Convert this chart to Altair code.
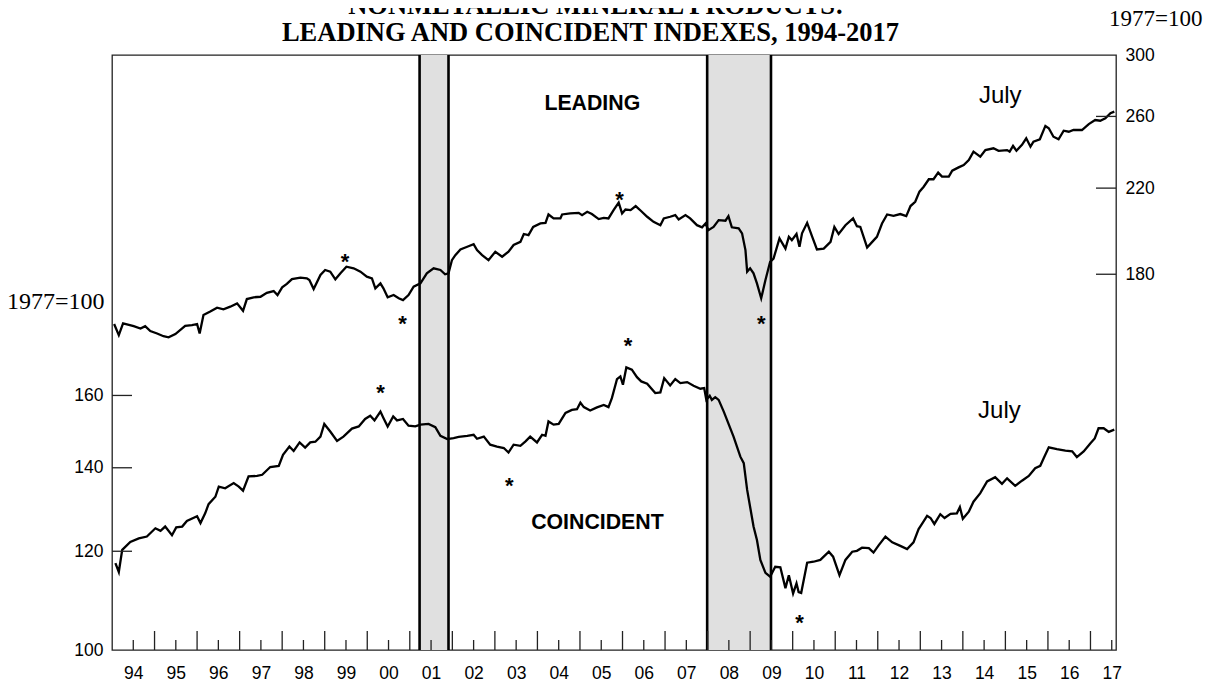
import altair as alt
import pandas as pd

W, H = 1004, 595
SANS = "Liberation Sans"
SERIF = "Liberation Serif"

# ---------------- data ----------------
lead_t = [1994.05,1994.16,1994.26,1994.51,1994.67,1994.78,1994.90,1995.06,1995.21,1995.33,
          1995.49,1995.72,1995.88,1996.00,1996.06,1996.15,1996.31,1996.47,1996.62,1996.78,
          1996.94,1997.08,1997.17,1997.33,1997.49,1997.64,1997.80,1997.89,1998.00,1998.11,
          1998.23,1998.43,1998.58,1998.64,1998.74,1998.90,1999.01,1999.13,1999.25,1999.37,
          1999.51,1999.68,1999.84,1999.99,2000.11,2000.19,2000.31,2000.38,2000.48,2000.62,
          2000.74,2000.84,2000.97,2001.09,2001.25,2001.40,2001.56,2001.72,2001.83,2001.91,
          2001.99,2002.07,2002.19,2002.35,2002.50,2002.58,2002.70,2002.85,2003.01,2003.17,
          2003.32,2003.44,2003.60,2003.68,2003.79,2003.90,2004.07,2004.19,2004.26,2004.38,
          2004.54,2004.58,2004.77,2004.97,2005.05,2005.17,2005.28,2005.44,2005.56,2005.67,
          2005.79,2005.91,2005.99,2006.07,2006.19,2006.31,2006.43,2006.58,2006.73,2006.89,
          2006.97,2007.12,2007.24,2007.32,2007.48,2007.59,2007.75,2007.87,2007.95,2008.02,
          2008.14,2008.26,2008.42,2008.49,2008.57,2008.73,2008.81,2008.89,2008.93,2009.00,
          2009.08,2009.16,2009.26,2009.36,2009.47,2009.55,2009.69,2009.83,2009.91,2009.98,
          2010.09,2010.16,2010.22,2010.34,2010.46,2010.57,2010.73,2010.89,2010.98,2011.08,
          2011.24,2011.42,2011.51,2011.59,2011.75,2011.87,2011.98,2012.10,2012.22,2012.37,
          2012.53,2012.67,2012.77,2012.88,2012.98,2013.08,2013.20,2013.31,2013.42,2013.51,
          2013.67,2013.75,2013.90,2014.02,2014.14,2014.25,2014.41,2014.53,2014.72,2014.84,
          2015.04,2015.10,2015.18,2015.26,2015.39,2015.49,2015.59,2015.66,2015.81,2015.94,
          2016.02,2016.13,2016.25,2016.37,2016.49,2016.60,2016.80,2016.96,2017.11,2017.23,
          2017.35,2017.47,2017.56]
lead_v = [160.3,156.2,160.5,159.5,158.6,159.5,157.7,156.8,155.8,155.4,
          156.6,159.6,159.9,160.3,156.8,163.7,165.0,166.5,165.9,166.9,
          168.2,165.3,169.9,170.6,170.8,172.4,173.1,171.5,174.6,176.0,
          178.0,178.6,178.3,177.6,173.9,179.7,181.8,181.1,177.9,180.4,
          183.2,182.5,181.1,179.0,178.3,174.2,176.2,174.2,170.6,171.5,
          170.2,169.5,171.5,174.9,176.2,180.4,182.5,181.8,180.0,180.4,
          186.0,188.2,190.7,191.9,193.1,190.4,188.2,186.0,189.7,187.5,
          189.7,192.7,194.1,197.7,197.2,201.0,202.6,202.9,206.9,205.0,
          205.0,206.9,207.4,207.7,206.6,208.2,207.1,204.7,205.3,205.0,
          209.0,212.7,207.4,209.3,209.0,211.0,208.7,205.8,203.4,201.8,
          205.0,205.8,206.6,204.5,206.6,205.0,201.8,200.8,202.6,199.5,
          201.0,204.2,203.9,206.1,200.8,200.3,198.0,190.4,181.1,182.5,
          180.4,176.2,170.2,177.6,185.3,186.7,195.7,191.1,196.4,194.9,
          197.7,191.9,198.0,202.9,196.4,190.7,191.1,194.1,201.0,197.7,
          201.8,205.0,201.3,201.0,191.6,194.1,196.4,202.6,206.9,206.2,
          207.1,206.1,211.0,213.1,218.2,220.7,224.6,224.6,228.1,226.0,
          226.0,229.1,230.9,232.2,234.9,239.5,236.7,240.4,241.4,240.0,
          240.4,239.5,242.7,240.0,243.3,247.1,242.3,245.1,246.5,254.3,
          252.9,248.0,246.5,251.5,250.9,251.9,251.9,255.4,257.8,257.4,
          258.8,261.9,262.9]

coin_t = [1994.08,1994.16,1994.24,1994.43,1994.63,1994.82,1995.02,1995.14,1995.25,1995.41,
          1995.51,1995.65,1995.76,1996.00,1996.08,1996.19,1996.27,1996.43,1996.51,1996.66,
          1996.86,1996.98,1997.08,1997.21,1997.41,1997.53,1997.72,1997.92,1998.02,1998.17,
          1998.27,1998.41,1998.54,1998.66,1998.78,1998.90,1998.99,1999.13,1999.29,1999.44,
          1999.64,1999.80,1999.95,2000.07,2000.17,2000.31,2000.38,2000.48,2000.61,2000.70,
          2000.84,2000.97,2001.13,2001.25,2001.44,2001.60,2001.72,2001.88,2002.03,2002.15,
          2002.35,2002.50,2002.58,2002.74,2002.89,2003.05,2003.21,2003.32,2003.44,2003.60,
          2003.72,2003.83,2003.99,2004.11,2004.19,2004.26,2004.38,2004.50,2004.66,2004.81,
          2004.93,2005.01,2005.09,2005.24,2005.40,2005.56,2005.67,2005.75,2005.87,2005.95,
          2006.01,2006.09,2006.22,2006.34,2006.44,2006.58,2006.77,2006.89,2006.98,2007.12,
          2007.24,2007.36,2007.52,2007.67,2007.83,2007.92,2007.97,2008.05,2008.10,2008.18,
          2008.26,2008.38,2008.61,2008.77,2008.85,2008.93,2009.08,2009.16,2009.24,2009.36,
          2009.47,2009.59,2009.71,2009.83,2009.91,2010.01,2010.09,2010.14,2010.20,2010.34,
          2010.49,2010.65,2010.85,2010.95,2011.10,2011.24,2011.40,2011.51,2011.63,2011.79,
          2011.90,2012.02,2012.18,2012.34,2012.53,2012.69,2012.84,2012.96,2013.04,2013.16,
          2013.24,2013.33,2013.47,2013.57,2013.71,2013.86,2013.93,2014.00,2014.14,2014.25,
          2014.41,2014.57,2014.76,2014.92,2015.04,2015.23,2015.39,2015.55,2015.70,2015.82,
          2015.90,2016.02,2016.21,2016.41,2016.57,2016.68,2016.84,2017.00,2017.10,2017.19,
          2017.31,2017.43,2017.56]
coin_v = [117.4,115.5,120.3,122.1,122.9,123.3,125.2,124.6,125.6,123.6,
          125.4,125.6,126.9,128.0,126.4,128.7,130.9,132.7,135.2,134.8,
          136.1,135.2,134.2,137.8,137.9,138.2,140.2,140.5,143.4,145.6,
          144.4,146.7,145.3,146.7,146.9,148.3,151.8,149.7,147.1,148.3,
          150.5,151.1,153.2,154.1,152.8,155.3,153.5,151.1,153.9,152.8,
          153.2,151.3,151.1,151.6,151.8,150.9,148.5,147.6,147.9,148.2,
          148.5,148.8,147.7,148.3,146.1,145.6,145.2,144.0,146.1,145.8,
          147.0,148.3,146.7,148.8,148.5,152.5,151.6,151.8,154.9,155.8,
          156.0,157.9,156.6,155.6,156.5,157.2,156.6,159.2,164.9,165.7,
          163.2,168.5,167.8,165.5,164.2,163.5,160.7,160.9,165.2,163.0,
          164.9,163.7,164.0,162.9,162.0,162.2,158.7,159.9,158.7,159.5,
          158.7,155.3,148.3,142.9,141.2,134.4,125.6,122.5,118.1,115.3,
          114.5,116.6,116.5,112.1,114.8,111.0,113.1,111.3,111.1,117.5,
          117.7,118.1,119.9,118.8,114.8,118.1,119.9,120.1,120.8,120.7,
          119.7,121.3,123.3,122.0,121.2,120.5,122.0,125.0,126.2,128.1,
          127.6,126.2,128.5,127.6,128.6,128.7,130.2,127.4,129.1,131.5,
          133.6,136.5,137.6,135.9,137.3,135.4,136.7,137.9,139.9,140.5,
          142.5,145.4,144.9,144.5,144.3,142.8,144.3,146.5,147.8,150.6,
          150.6,149.6,150.2]

# recessions (shaded)
rec_start = [2001.23, 2007.99]
rec_end = [2001.91, 2009.49]

# turning-point asterisks
lead_star_t = [1999.48, 2000.83, 2005.93, 2009.26]
lead_star_v = [187.3, 162.2, 216.5, 162.2]
coin_star_t = [2000.31, 2003.34, 2006.13, 2010.16]
coin_star_v = [162.3, 136.6, 177.0, 106.1]

# in-chart labels
lead_name, lead_name_t, lead_name_v = "LEADING", 2005.29, 267.6
coin_name, coin_name_t, coin_name_v = "COINCIDENT", 2005.41, 126.5
month_label = "July"
lead_month_t, lead_month_v = 2014.88, 272.7
coin_month_t, coin_month_v = 2014.86, 155.5

title_lines = ["NONMETALLIC MINERAL PRODUCTS:", "LEADING AND COINCIDENT INDEXES, 1994-2017"]
index_base = "1977=100"

# axes
year_labels = ["94", "95", "96", "97", "98", "99", "00", "01", "02", "03", "04", "05",
               "06", "07", "08", "09", "10", "11", "12", "13", "14", "15", "16", "17"]
year_label_pos = [1994.5 + i for i in range(len(year_labels))]
year_ticks = [1995 + i for i in range(23)]
half_ticks = [1994.5 + i for i in range(24)]
left_values = [100, 120, 140, 160]
left_ticks = [120, 140, 160]
right_values = [180, 220, 260, 300]
right_ticks = [180, 220, 260]

# ---------------- chart ----------------
lead = pd.DataFrame({"t": lead_t, "v": lead_v})
coin = pd.DataFrame({"t": coin_t, "v": coin_v})
rec = pd.DataFrame({"start": rec_start, "end": rec_end})
edges = pd.DataFrame({"t": rec_start + rec_end})

label_expr = "[" + ",".join(f"'{s}'" for s in year_labels) + "][round(datum.value - 1994.5)]"
xscale = alt.Scale(domain=[1994.0, 2017.6], nice=False, zero=False)
xaxis = alt.Axis(values=year_label_pos, labelExpr=label_expr, ticks=False, tickSize=0,
                 domain=False, grid=False, title=None, labelFont=SANS, labelFontSize=17.5,
                 labelColor="black", labelPadding=14, labelFlush=False, labelOverlap=False)


def X(field):
    return alt.X(f"{field}:Q", scale=xscale, axis=xaxis)


lscale = alt.Scale(type="log", domain=[100, 300], nice=False, zero=False)
laxis = alt.Axis(orient="left", values=left_values, format="d", ticks=False, tickSize=0,
                 domain=False, grid=False, labelFont=SANS, labelFontSize=17.5,
                 labelColor="black", labelPadding=9, labelOverlap=False,
                 title=index_base, titleAngle=0, titleFont=SERIF, titleFontSize=24,
                 titleFontWeight="normal", titleColor="black", titleAlign="right",
                 titleBaseline="middle", titleX=-8, titleY=246)
rscale = alt.Scale(type="log", domain=[75, 300], nice=False, zero=False)
raxis = alt.Axis(orient="right", values=right_values, format="d", ticks=False, tickSize=0,
                 domain=False, grid=False, labelFont=SANS, labelFontSize=17.5,
                 labelColor="black", labelPadding=9, labelOverlap=False, title=None)


def YL(field):
    return alt.Y(f"{field}:Q", scale=lscale, axis=laxis)


def YR(field):
    return alt.Y(f"{field}:Q", scale=rscale, axis=raxis)


shade = alt.Chart(rec).mark_rect(color="#e0e0e0").encode(
    x=X("start"), x2="end", y=alt.value(0), y2=alt.value(H))
edge_rules = alt.Chart(edges).mark_rule(color="black", strokeWidth=2.6).encode(
    x=X("t"), y=alt.value(0), y2=alt.value(H))
long_ticks = alt.Chart(pd.DataFrame({"t": year_ticks})).mark_rule(
    color="#222", strokeWidth=1.3).encode(x=X("t"), y=alt.value(H - 19), y2=alt.value(H))
short_ticks = alt.Chart(pd.DataFrame({"t": half_ticks})).mark_rule(
    color="#222", strokeWidth=1.3).encode(x=X("t"), y=alt.value(H - 10), y2=alt.value(H))


def star_layer(ts, vs, Y):
    return alt.Chart(pd.DataFrame({"t": ts, "v": vs})).mark_text(
        text="*", font=SANS, fontSize=22, fontWeight="bold", color="black",
        baseline="alphabetic", dy=12).encode(x=X("t"), y=Y("v"))


def text_layer(s, t, v, Y, bold, size):
    return alt.Chart(pd.DataFrame({"t": [t], "v": [v], "s": [s]})).mark_text(
        font=SANS, fontSize=size, fontWeight="bold" if bold else "normal",
        color="black", baseline="middle").encode(x=X("t"), y=Y("v"), text="s:N")


def fixed_text(s, px, py, font, size, weight, align):
    return alt.Chart(pd.DataFrame({"s": [s]})).mark_text(
        font=font, fontSize=size, fontWeight=weight, color="black", align=align,
        baseline="alphabetic").encode(x=alt.value(px), y=alt.value(py), text="s:N")


coin_line = alt.Chart(coin).mark_line(color="black", strokeWidth=2.3).encode(
    x=X("t"), y=YL("v"))
coin_tk = alt.Chart(pd.DataFrame({"v": left_ticks})).mark_rule(
    color="#222", strokeWidth=1.3).encode(y=YL("v"), x=alt.value(0), x2=alt.value(20))

lead_line = alt.Chart(lead).mark_line(color="black", strokeWidth=2.3).encode(
    x=X("t"), y=YR("v"))
lead_tk = alt.Chart(pd.DataFrame({"v": right_ticks})).mark_rule(
    color="#222", strokeWidth=1.3).encode(y=YR("v"), x=alt.value(W - 20), x2=alt.value(W))

left_group = alt.layer(
    coin_line, coin_tk, star_layer(coin_star_t, coin_star_v, YL),
    text_layer(coin_name, coin_name_t, coin_name_v, YL, True, 21.3),
    text_layer(month_label, coin_month_t, coin_month_v, YL, False, 24),
)
right_group = alt.layer(
    lead_line, lead_tk, star_layer(lead_star_t, lead_star_v, YR),
    text_layer(lead_name, lead_name_t, lead_name_v, YR, True, 21.3),
    text_layer(month_label, lead_month_t, lead_month_v, YR, False, 24),
)

title1 = fixed_text(title_lines[0], 484, -41, SERIF, 26.5, "bold", "center")
title2 = fixed_text(title_lines[1], 478.5, -14, SERIF, 26.5, "bold", "center")
right_base = fixed_text(index_base, W - 7, -29, SERIF, 23, "normal", "left")

chart = alt.layer(
    shade, edge_rules, long_ticks, short_ticks, left_group, right_group,
    title1, title2, right_base
).resolve_scale(y="independent").properties(
    width=W, height=H,
    autosize=alt.AutoSizeParams(type="none"),
    padding={"left": 104, "top": 47, "right": 92, "bottom": 35},
    background="white",
).configure_view(stroke="#222", strokeWidth=1.3)

chart.save("out.html", embed_options={"renderer": "svg", "actions": False})
